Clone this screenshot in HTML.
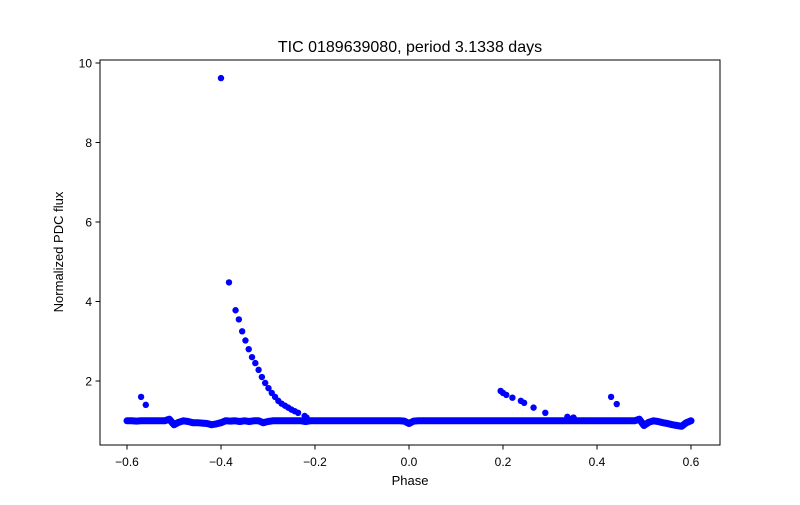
<!DOCTYPE html>
<html><head><meta charset="utf-8"><style>
body{margin:0;background:#fff;}
svg{font-family:"Liberation Sans","DejaVu Sans",sans-serif;}
</style></head><body>
<svg id="chart" width="800" height="500" xmlns="http://www.w3.org/2000/svg">
<rect width="800" height="500" fill="#fff"/>
<text x="410" y="52" font-size="16" text-anchor="middle">TIC 0189639080, period 3.1338 days</text>
<g id="marks"></g>
<rect x="100" y="60" width="620" height="385" fill="none" stroke="#000" stroke-width="1"/>
<g id="axes"></g>
<text x="410" y="485" font-size="13" text-anchor="middle">Phase</text>
<text x="63" y="252" font-size="13" text-anchor="middle" transform="rotate(-90 63 252)">Normalized PDC flux</text>
</svg>
<script>
const xTicks=[-0.6,-0.4,-0.2,0.0,0.2,0.4,0.6];
const xTickLabels=["−0.6","−0.4","−0.2","0.0","0.2","0.4","0.6"];
const yTicks=[2,4,6,8,10];
const yTickLabels=["2","4","6","8","10"];
// baseline: phase -0.60..0.60 step 0.01
const basePhase=[];
for(let i=0;i<=120;i++)basePhase.push(-0.6+i*0.01);
const baseFlux=[1.0,1.0,0.99,1.0,1.0,1.0,1.0,1.0,1.0,1.04,0.9,0.96,1.0,0.98,0.95,0.95,0.94,0.93,0.9,0.92,0.95,1.0,0.99,1.0,0.98,1.0,0.98,1.0,1.0,0.95,0.98,1.0,1.0,1.0,1.0,1.0,1.0,1.0,0.98,1.0,1.0,1.0,1.0,1.0,1.0,1.0,1.0,1.0,1.0,1.0,1.0,1.0,1.0,1.0,1.0,1.0,1.0,1.0,1.0,0.99,0.93,0.99,1.0,1.0,1.0,1.0,1.0,1.0,1.0,1.0,1.0,1.0,1.0,1.0,1.0,1.0,1.0,1.0,1.0,1.0,1.0,1.0,1.0,1.0,1.0,1.0,1.0,1.0,1.0,1.0,1.0,1.0,1.0,1.0,1.0,1.0,1.0,1.0,1.0,1.0,1.0,1.0,1.0,1.0,1.0,1.0,1.0,1.0,1.0,1.04,0.88,0.96,1.0,0.98,0.95,0.93,0.9,0.88,0.86,0.95,1.0];
const flarePhase=[-0.57,-0.56,-0.40,-0.383,-0.369,-0.362,-0.355,-0.348,-0.341,-0.334,-0.327,-0.320,-0.313,-0.306,-0.299,-0.292,-0.285,-0.278,-0.271,-0.264,-0.257,-0.250,-0.243,-0.236,-0.222,-0.218,0.195,0.200,0.207,0.220,0.238,0.245,0.265,0.290,0.337,0.350,0.43,0.442];
const flareFlux=[1.6,1.4,9.62,4.48,3.78,3.55,3.25,3.02,2.8,2.6,2.45,2.28,2.1,1.95,1.82,1.7,1.6,1.5,1.43,1.38,1.33,1.28,1.24,1.2,1.12,1.08,1.75,1.7,1.65,1.58,1.5,1.45,1.33,1.2,1.1,1.08,1.6,1.42];
const X=v=>409+v*470;
const Y=v=>460.5-v*39.75;
const NS="http://www.w3.org/2000/svg";
const marks=document.getElementById('marks');
const axes=document.getElementById('axes');
function mk(tag,attrs,parent){const e=document.createElementNS(NS,tag);for(const k in attrs)e.setAttribute(k,attrs[k]);parent.appendChild(e);return e;}
// baseline band
let d=basePhase.map((p,i)=>(i?'L':'M')+X(p).toFixed(1)+','+Y(baseFlux[i]).toFixed(1)).join(' ');
const band=mk('path',{d:d,fill:'none',stroke:'#0000ff','stroke-width':7,'stroke-linejoin':'round','stroke-linecap':'round'},marks);


basePhase.forEach((p,i)=>{
  const c=mk('circle',{cx:X(p),cy:Y(baseFlux[i]),r:3.3,fill:'#0000ff'},marks);
  
  
});
flarePhase.forEach((p,i)=>{
  const c=mk('circle',{cx:X(p),cy:Y(flareFlux[i]),r:3.2,fill:'#0000ff'},marks);
  
  
});
xTicks.forEach((t,i)=>{
  const x=X(t);
  const l=mk('line',{x1:x,x2:x,y1:445,y2:449.5,stroke:'#000','stroke-width':1},axes);
  
  
  const tx=mk('text',{x:x,y:466,'font-size':12,'text-anchor':'middle'},axes);
  tx.textContent=xTickLabels[i];
  
  
});
yTicks.forEach((t,i)=>{
  const y=Y(t);
  const l=mk('line',{x1:95.5,x2:100,y1:y,y2:y,stroke:'#000','stroke-width':1},axes);
  
  
  const tx=mk('text',{x:92,y:y+4.5,'font-size':12,'text-anchor':'end'},axes);
  tx.textContent=yTickLabels[i];
  
  
});
</script>
</body></html>
